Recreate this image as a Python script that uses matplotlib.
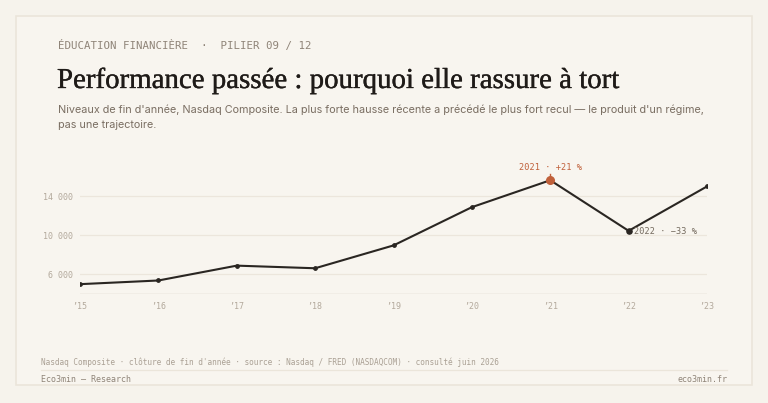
import numpy as np
import matplotlib.pyplot as plt
import matplotlib.patheffects as pe
from matplotlib.patches import Rectangle
from matplotlib.ticker import FuncFormatter

# Clôtures de fin d'année, Nasdaq Composite
annees = np.array([2015, 2016, 2017, 2018, 2019, 2020, 2021, 2022, 2023])
niveaux = np.array([5007, 5383, 6903, 6635, 8973, 12888, 15645, 10466, 15011])
yticks = [6000, 10000, 14000]
xlabels = ["’15", "’16", "’17", "’18", "’19", "’20", "’21", "’22", "’23"]

fond = "#f6f3ec"
carte = "#f8f5ef"
encre = "#2a2622"
gris = "#8f8478"
gris_clair = "#b3a99c"
orange = "#c0603a"
mono = ["DejaVu Sans Mono"]

W, H = 768, 403
fig = plt.figure(figsize=(W / 100, H / 100), dpi=100, facecolor=fond)

def fx(px):
    return px / W

def fy(py):
    return 1 - py / H

# carte
carte_rect = Rectangle((fx(16), fy(385)), fx(752) - fx(16), fy(16) - fy(385),
                       transform=fig.transFigure, facecolor=carte,
                       edgecolor="#ebe5da", lw=1.2, zorder=-10)
fig.patches.append(carte_rect)

fig.text(fx(58), fy(46), "ÉDUCATION FINANCIÈRE  ·  PILIER 09 / 12", family=mono,
         fontsize=7.75, color=gris, va="center", ha="left")
titre = fig.text(fx(57), fy(88), "Performance passée : pourquoi elle rassure à tort",
                 family=["Liberation Serif"], fontsize=20.8, color="#1f1b18", va="baseline")
titre.set_path_effects([pe.withStroke(linewidth=0.25, foreground="#1f1b18")])
fig.text(fx(58), fy(110), "Niveaux de fin d'année, Nasdaq Composite. La plus forte hausse récente a précédé le plus fort recul — le produit d'un régime,",
         family=["Inter", "DejaVu Sans"], fontsize=7.8, color="#7a6e62", va="center")
fig.text(fx(58), fy(125), "pas une trajectoire.",
         family=["Inter", "DejaVu Sans"], fontsize=7.8, color="#7a6e62", va="center")

ax = fig.add_axes([fx(80), fy(294), fx(707) - fx(80), fy(167) - fy(294)], zorder=5)
ax.set_facecolor("none")
ax.set_xlim(2015, 2023)
ax.set_ylim(4000, 17000)

for v in yticks:
    ax.axhline(v, color="#ece6dc", lw=0.9, zorder=1)
ax.axhline(4000, color="#d9d0c3", lw=1.0, zorder=1)

ax.plot(annees, niveaux, color=encre, lw=1.5, zorder=3)
ax.scatter(annees, niveaux, s=6, color=encre, zorder=4)

i21 = list(annees).index(2021)
i22 = list(annees).index(2022)
ax.scatter([annees[i21]], [niveaux[i21]], s=30, color=orange, zorder=5)
ax.plot([annees[i21], annees[i21]], [niveaux[i21], niveaux[i21] + 600], color=orange, lw=1, zorder=5)
ax.scatter([annees[i22]], [niveaux[i22]], s=14, color=encre, zorder=5)

ax.annotate("2021 · +21 %", (annees[i21], niveaux[i21]), xytext=(0, 6),
            textcoords="offset points", ha="center", va="bottom", family=mono,
            fontsize=6.2, color=orange, annotation_clip=False)
ax.annotate("2022 · −33 %", (annees[i22], niveaux[i22]), xytext=(4, -0.5),
            textcoords="offset points", ha="left", va="center", family=mono,
            fontsize=6.2, color="#746a5e", annotation_clip=False)

ax.set_yticks(yticks)
ax.yaxis.set_major_formatter(FuncFormatter(lambda v, p: f"{int(v):,}".replace(",", " ")))
ax.set_xticks(annees)
ax.set_xticklabels(xlabels)
for lab in ax.get_xticklabels() + ax.get_yticklabels():
    lab.set_family(mono)
    lab.set_fontsize(6.0)
    lab.set_color(gris_clair)
ax.tick_params(axis="x", length=0, pad=6)
ax.tick_params(axis="y", length=0, pad=5)
for s in ax.spines.values():
    s.set_visible(False)

fig.text(fx(41), fy(362), "Nasdaq Composite · clôture de fin d'année · source : Nasdaq / FRED (NASDAQCOM) · consulté juin 2026",
         family=mono, fontsize=5.6, color="#aaa094", va="center")
fig.add_artist(plt.Line2D([fx(41), fx(727)], [fy(370), fy(370)], color="#ebe5da", lw=0.9))
fig.text(fx(41), fy(379), "Eco3min — Research", family=mono, fontsize=6.0, color=gris, va="center")
fig.text(fx(727), fy(379), "eco3min.fr", family=mono, fontsize=6.0, color=gris, va="center", ha="right")

fig.savefig("out.png", dpi=100, facecolor=fond)
